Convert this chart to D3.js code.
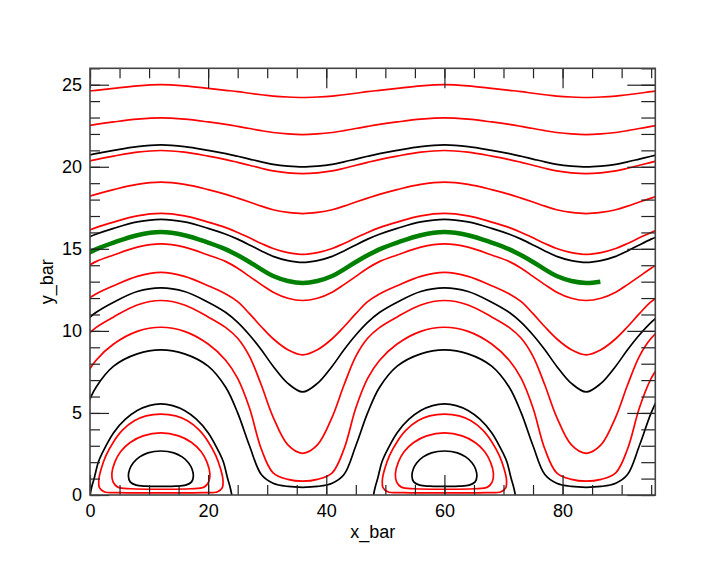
<!DOCTYPE html>
<html>
<head>
<meta charset="utf-8">
<script src="https://cdn.jsdelivr.net/npm/d3@7"></script>
<style>
  body { margin: 0; background: white; }
  svg text { font-family: "Liberation Sans", Arial, sans-serif; fill: #000; }
</style>
</head>
<body>
<div id="chart"></div>
<script>
// x positions shared by the open level curves
const xGrid = [-1, 1, 4, 8, 12, 16, 20, 23, 25, 27, 29, 31, 33.5, 36, 38.5, 41, 43, 45, 47, 49, 52, 56, 60, 64, 68, 71, 73, 75, 77, 79, 81.5, 84, 86.5, 89, 91, 93, 95, 97];

// y_bar values on xGrid (named by their peak level)
const red25 = [24.58, 24.66, 24.78, 24.93, 25.00, 24.93, 24.78, 24.66, 24.58, 24.48, 24.39, 24.31, 24.25, 24.22, 24.25, 24.31, 24.39, 24.48, 24.58, 24.66, 24.78, 24.93, 25.00, 24.93, 24.78, 24.66, 24.58, 24.48, 24.39, 24.31, 24.25, 24.22, 24.25, 24.31, 24.39, 24.48, 24.58, 24.66];
const red23 = [22.46, 22.58, 22.73, 22.90, 22.98, 22.90, 22.73, 22.58, 22.46, 22.33, 22.20, 22.09, 22.00, 21.96, 22.00, 22.09, 22.20, 22.33, 22.46, 22.58, 22.73, 22.90, 22.98, 22.90, 22.73, 22.58, 22.46, 22.33, 22.20, 22.09, 22.00, 21.96, 22.00, 22.09, 22.20, 22.33, 22.46, 22.58];
const black21 = [20.64, 20.80, 21.00, 21.23, 21.33, 21.23, 21.00, 20.80, 20.64, 20.47, 20.30, 20.15, 20.04, 19.99, 20.04, 20.15, 20.30, 20.47, 20.64, 20.80, 21.00, 21.23, 21.33, 21.23, 21.00, 20.80, 20.64, 20.47, 20.30, 20.15, 20.04, 19.99, 20.04, 20.15, 20.30, 20.47, 20.64, 20.80];
const red21 = [20.27, 20.44, 20.65, 20.89, 20.99, 20.89, 20.65, 20.44, 20.27, 20.09, 19.91, 19.75, 19.63, 19.58, 19.63, 19.75, 19.91, 20.09, 20.27, 20.44, 20.65, 20.89, 20.99, 20.89, 20.65, 20.44, 20.27, 20.09, 19.91, 19.75, 19.63, 19.58, 19.63, 19.75, 19.91, 20.09, 20.27, 20.44];
const red19 = [18.09, 18.32, 18.61, 18.93, 19.06, 18.93, 18.61, 18.32, 18.09, 17.85, 17.60, 17.38, 17.22, 17.15, 17.22, 17.38, 17.60, 17.85, 18.09, 18.32, 18.61, 18.93, 19.06, 18.93, 18.61, 18.32, 18.09, 17.85, 17.60, 17.38, 17.22, 17.15, 17.22, 17.38, 17.60, 17.85, 18.09, 18.32];
const red17 = [16.00, 16.29, 16.63, 17.01, 17.16, 17.01, 16.63, 16.29, 16.00, 15.67, 15.33, 15.02, 14.77, 14.66, 14.77, 15.02, 15.33, 15.67, 16.00, 16.29, 16.63, 17.01, 17.16, 17.01, 16.63, 16.29, 16.00, 15.67, 15.33, 15.02, 14.77, 14.66, 14.77, 15.02, 15.33, 15.67, 16.00, 16.29];
const black17 = [15.59, 15.89, 16.25, 16.64, 16.80, 16.64, 16.25, 15.89, 15.59, 15.24, 14.87, 14.54, 14.28, 14.17, 14.28, 14.54, 14.87, 15.24, 15.59, 15.89, 16.25, 16.64, 16.80, 16.64, 16.25, 15.89, 15.59, 15.24, 14.87, 14.54, 14.28, 14.17, 14.28, 14.54, 14.87, 15.24, 15.59, 15.89];
const red15 = [13.82, 14.22, 14.62, 15.10, 15.30, 15.10, 14.62, 14.22, 13.82, 13.32, 12.82, 12.36, 11.99, 11.85, 11.99, 12.36, 12.82, 13.32, 13.82, 14.22, 14.62, 15.10, 15.30, 15.10, 14.62, 14.22, 13.82, 13.32, 12.82, 12.36, 11.99, 11.85, 11.99, 12.36, 12.82, 13.32, 13.82, 14.22];
const red13 = [11.78, 12.25, 12.75, 13.32, 13.56, 13.32, 12.75, 12.25, 11.78, 11.05, 10.25, 9.52, 8.85, 8.54, 8.85, 9.52, 10.25, 11.05, 11.78, 12.25, 12.75, 13.32, 13.56, 13.32, 12.75, 12.25, 11.78, 11.05, 10.25, 9.52, 8.85, 8.54, 8.85, 9.52, 10.25, 11.05, 11.78, 12.25];
const black12 = [10.52, 11.12, 11.75, 12.40, 12.62, 12.40, 11.75, 11.12, 10.52, 9.75, 8.85, 7.85, 6.80, 6.28, 6.80, 7.85, 8.85, 9.75, 10.52, 11.12, 11.75, 12.40, 12.62, 12.40, 11.75, 11.12, 10.52, 9.75, 8.85, 7.85, 6.80, 6.28, 6.80, 7.85, 8.85, 9.75, 10.52, 11.12];
const red12 = [9.55, 10.20, 10.85, 11.58, 11.85, 11.58, 10.85, 10.20, 9.55, 8.45, 6.70, 4.75, 3.05, 2.54, 3.05, 4.75, 6.70, 8.45, 9.55, 10.20, 10.85, 11.58, 11.85, 11.58, 10.85, 10.20, 9.55, 8.45, 6.70, 4.75, 3.05, 2.54, 3.05, 4.75, 6.70, 8.45, 9.55, 10.20];
const red10 = [7.10, 8.20, 9.20, 9.97, 10.22, 9.97, 9.20, 8.20, 7.10, 5.30, 2.80, 1.35, 0.95, 0.84, 0.95, 1.35, 2.80, 5.30, 7.10, 8.20, 9.20, 9.97, 10.22, 9.97, 9.20, 8.20, 7.10, 5.30, 2.80, 1.35, 0.95, 0.84, 0.95, 1.35, 2.80, 5.30, 7.10, 8.20];
const black9 = [5.00, 6.55, 7.85, 8.60, 8.84, 8.60, 7.85, 6.55, 5.00, 3.00, 1.25, 0.72, 0.52, 0.47, 0.52, 0.72, 1.25, 3.00, 5.00, 6.55, 7.85, 8.60, 8.84, 8.60, 7.85, 6.55, 5.00, 3.00, 1.25, 0.72, 0.52, 0.47, 0.52, 0.72, 1.25, 3.00, 5.00, 6.55];

// the thick green trajectory
const greenX = [-1, 1, 4, 8, 12, 16, 20, 23, 25, 27, 29, 31, 33.5, 36, 38.5, 41, 43, 45, 47, 49, 52, 56, 60, 64, 68, 71, 73, 75, 77, 79, 81.5, 84, 86.4];
const greenY = [14.61, 14.97, 15.38, 15.83, 16.02, 15.83, 15.38, 14.97, 14.61, 14.20, 13.75, 13.34, 13.04, 12.92, 13.04, 13.34, 13.75, 14.20, 14.61, 14.97, 15.38, 15.83, 16.02, 15.83, 15.38, 14.97, 14.61, 14.20, 13.75, 13.34, 13.04, 12.92, 13.00];

// closed islands near the bottom: [offset from island centre, y_bar]
const islandCenters = [12, 60];
const islandInnerBlack = [[0, 2.68], [2.2, 2.57], [3.6, 2.32], [4.7, 1.95], [5.3, 1.55], [5.5, 1.15], [5.2, 0.8], [4.2, 0.6], [2.5, 0.54], [0, 0.53], [-2.5, 0.54], [-4.2, 0.6], [-5.2, 0.8], [-5.5, 1.15], [-5.3, 1.55], [-4.7, 1.95], [-3.6, 2.32], [-2.2, 2.57]];
const islandMidRed = [[0, 3.78], [3.0, 3.60], [5.2, 3.2], [6.8, 2.65], [7.8, 2.0], [8.3, 1.3], [8.1, 0.8], [7.3, 0.48], [5, 0.38], [0, 0.35], [-5, 0.38], [-7.3, 0.48], [-8.1, 0.8], [-8.3, 1.3], [-7.8, 2.0], [-6.8, 2.65], [-5.2, 3.2], [-3.0, 3.60]];
const islandOuterRed = [[0, 4.93], [2.5, 4.82], [4.5, 4.52], [6.5, 3.95], [8, 3.25], [9.3, 2.4], [10.1, 1.6], [10.5, 0.95], [10.4, 0.45], [9.6, 0.2], [7, 0.14], [0, 0.13], [-7, 0.14], [-9.6, 0.2], [-10.4, 0.45], [-10.5, 0.95], [-10.1, 1.6], [-9.3, 2.4], [-8, 3.25], [-6.5, 3.95], [-4.5, 4.52], [-2.5, 4.82]];
const islandOuterBlack = [[-12.15, -0.5], [-12, 0], [-11.7, 0.5], [-11.3, 1.0], [-10.6, 2.0], [-10, 2.5], [-8, 3.8], [-6, 4.62], [-4, 5.15], [-2, 5.45], [0, 5.55], [2, 5.45], [4, 5.15], [6, 4.62], [8, 3.8], [10, 2.5], [10.6, 2.0], [11.3, 1.0], [11.7, 0.5], [12, 0], [12.15, -0.5]];

// axis ticks
const xMajorTicks = [0, 20, 40, 60, 80];
const xMinorTicks = d3.range(0, 96, 5);
const yMajorTicks = [0, 5, 10, 15, 20, 25];
const yMinorTicks = d3.range(0, 27, 1);

const width = 711;
const height = 569;
const margin = { top: 68.3, right: 55.7, bottom: 74, left: 90 };

const svg = d3.select("#chart")
  .append("svg")
  .attr("width", width)
  .attr("height", height)
  .style("background", "white");

const x = d3.scaleLinear()
  .domain([0, 95.7])
  .range([margin.left, width - margin.right]);

const y = d3.scaleLinear()
  .domain([0, 26])
  .range([height - margin.bottom, margin.top]);

svg.append("clipPath")
  .attr("id", "plot-clip")
  .append("rect")
    .attr("x", x(0))
    .attr("y", y(26))
    .attr("width", x(95.7) - x(0))
    .attr("height", y(0) - y(26));

const plot = svg.append("g").attr("clip-path", "url(#plot-clip)");

const smooth = d3.curveCatmullRom.alpha(0.5);

const levelLine = d3.line()
  .x((d, i) => x(xGrid[i]))
  .y(d => y(d))
  .curve(smooth);

const redCurves = [red25, red23, red21, red19, red17, red15, red13, red12, red10];
const blackCurves = [black21, black17, black12, black9];

plot.selectAll(".red-level")
  .data(redCurves)
  .enter()
  .append("path")
    .attr("class", "red-level")
    .attr("d", levelLine)
    .attr("fill", "none")
    .attr("stroke", "#ff0000")
    .attr("stroke-width", 1.7);

plot.selectAll(".black-level")
  .data(blackCurves)
  .enter()
  .append("path")
    .attr("class", "black-level")
    .attr("d", levelLine)
    .attr("fill", "none")
    .attr("stroke", "#000")
    .attr("stroke-width", 1.7);

// islands, repeated at each centre
const islands = [];
islandCenters.forEach(c => {
  islands.push({ c, pts: islandOuterBlack, color: "#000", closed: false });
  islands.push({ c, pts: islandOuterRed, color: "#ff0000", closed: true });
  islands.push({ c, pts: islandMidRed, color: "#ff0000", closed: true });
  islands.push({ c, pts: islandInnerBlack, color: "#000", closed: true });
});

plot.selectAll(".island")
  .data(islands)
  .enter()
  .append("path")
    .attr("class", "island")
    .attr("d", d => d3.line()
      .x(p => x(d.c + p[0]))
      .y(p => y(p[1]))
      .curve(d.closed ? d3.curveCatmullRomClosed.alpha(0.5) : smooth)(d.pts))
    .attr("fill", "none")
    .attr("stroke", d => d.color)
    .attr("stroke-width", 1.7);

plot.append("path")
  .datum(greenX.map((gx, i) => [gx, greenY[i]]))
  .attr("d", d3.line().x(d => x(d[0])).y(d => y(d[1])).curve(smooth))
  .attr("fill", "none")
  .attr("stroke", "#008000")
  .attr("stroke-width", 4.5);

// axes: ticks point inwards on all four sides
function styleAxis(g) {
  g.select(".domain").remove();
  g.selectAll(".tick line").attr("stroke", "#222").attr("stroke-width", 1.2);
  g.selectAll("text").attr("font-size", 18).attr("font-family", "Liberation Sans, Arial, sans-serif");
}

svg.append("g")
  .attr("transform", `translate(0,${y(0)})`)
  .call(d3.axisBottom(x).tickValues(xMinorTicks).tickSize(-10).tickFormat(""))
  .call(styleAxis);

svg.append("g")
  .attr("transform", `translate(0,${y(0)})`)
  .call(d3.axisBottom(x).tickValues(xMajorTicks).tickSizeInner(-20).tickSizeOuter(0).tickPadding(9))
  .call(styleAxis);

svg.append("g")
  .attr("transform", `translate(0,${y(26)})`)
  .call(d3.axisTop(x).tickValues(xMinorTicks).tickSize(-10).tickFormat(""))
  .call(styleAxis);

svg.append("g")
  .attr("transform", `translate(0,${y(26)})`)
  .call(d3.axisTop(x).tickValues(xMajorTicks).tickSize(-20).tickFormat(""))
  .call(styleAxis);

svg.append("g")
  .attr("transform", `translate(${x(0)},0)`)
  .call(d3.axisLeft(y).tickValues(yMinorTicks).tickSize(-10).tickFormat(""))
  .call(styleAxis);

svg.append("g")
  .attr("transform", `translate(${x(0)},0)`)
  .call(d3.axisLeft(y).tickValues(yMajorTicks).tickSizeInner(-19).tickSizeOuter(0).tickPadding(8))
  .call(styleAxis);

svg.append("g")
  .attr("transform", `translate(${x(95.7)},0)`)
  .call(d3.axisRight(y).tickValues(yMinorTicks).tickSize(-14).tickFormat(""))
  .call(styleAxis);

svg.append("g")
  .attr("transform", `translate(${x(95.7)},0)`)
  .call(d3.axisRight(y).tickValues(yMajorTicks).tickSize(-28).tickFormat(""))
  .call(styleAxis);

// frame
svg.append("rect")
  .attr("x", x(0))
  .attr("y", y(26))
  .attr("width", x(95.7) - x(0))
  .attr("height", y(0) - y(26))
  .attr("fill", "none")
  .attr("stroke", "#444")
  .attr("stroke-width", 1.6);

svg.append("text")
  .attr("x", (x(0) + x(95.7)) / 2)
  .attr("y", 538)
  .attr("text-anchor", "middle")
  .attr("font-size", "18px")
  .text("x_bar");

svg.append("text")
  .attr("transform", `translate(53,${(y(0) + y(26)) / 2}) rotate(-90)`)
  .attr("text-anchor", "middle")
  .attr("font-size", "18px")
  .text("y_bar");
</script>
</body>
</html>
